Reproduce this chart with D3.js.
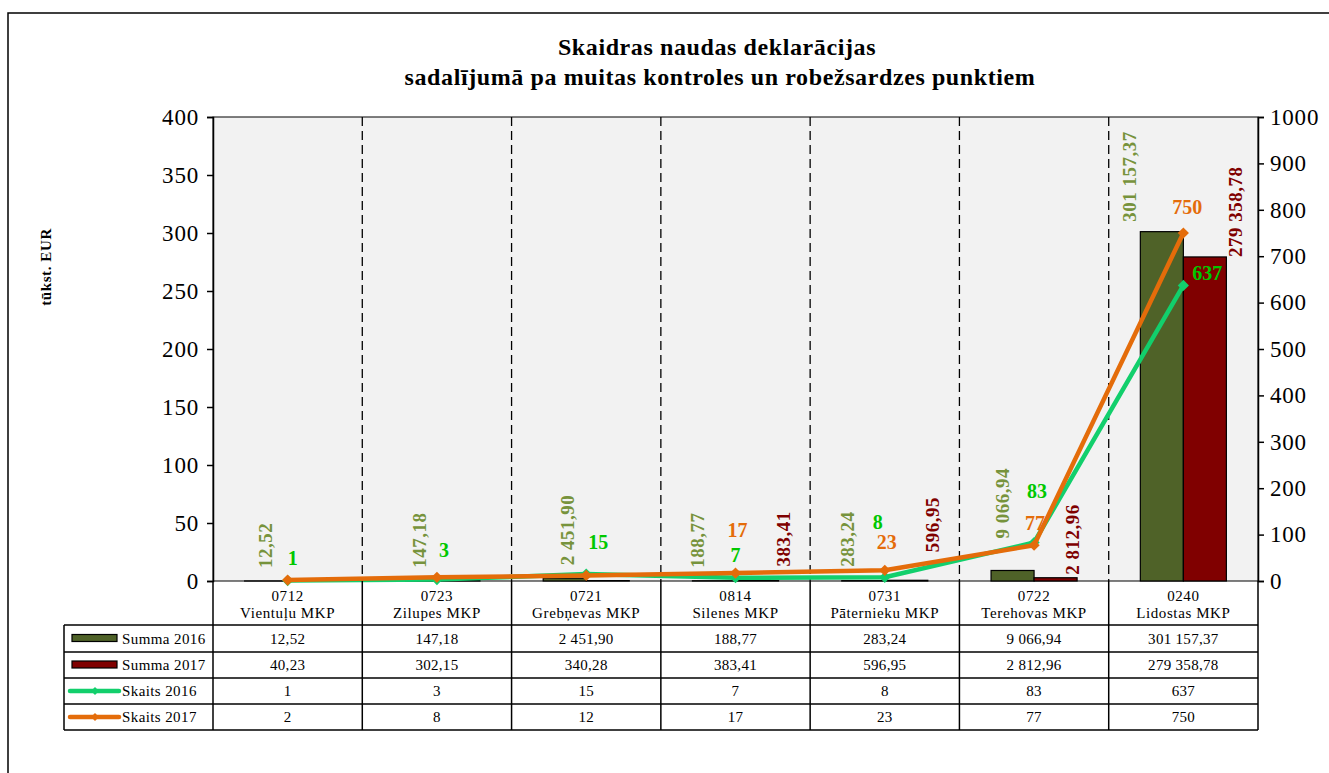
<!DOCTYPE html>
<html>
<head>
<meta charset="utf-8">
<script src="https://cdn.jsdelivr.net/npm/d3@7"></script>
<style>
  body { margin: 0; background: #fff; }
  svg text { font-family: 'Liberation Serif', serif; }
</style>
</head>
<body>
<svg id="chart" width="1329" height="773" font-family="Liberation Serif"></svg>
<script>
// BEGIN data
var codes = ["0712", "0723", "0721", "0814", "0731", "0722", "0240"];
var places = ["Vientuļu MKP", "Zilupes MKP", "Grebņevas MKP", "Silenes MKP", "Pāternieku MKP", "Terehovas MKP", "Lidostas MKP"];
var summa2016 = [12.52, 147.18, 2451.90, 188.77, 283.24, 9066.94, 301157.37];
var summa2017 = [40.23, 302.15, 340.28, 383.41, 596.95, 2812.96, 279358.78];
var skaits2016 = [1, 3, 15, 7, 8, 83, 637];
var skaits2017 = [2, 8, 12, 17, 23, 77, 750];
var leftTicks = [0, 50, 100, 150, 200, 250, 300, 350, 400];
var rightTicks = [0, 100, 200, 300, 400, 500, 600, 700, 800, 900, 1000];
// END data

// label nudges as placed in the original chart (null = label not shown)
var nudgeS16 = [[-1,-13],[4,-13],[3,-13],[-16,-13],[-16,-14],[-10,-32],[-32,-10]];
var nudgeS17 = [null,null,null,[26,-14],[26,-28],[17,-3],[31,0]];
var nudgeK16 = [[5,-23],[7,-30],[12,-32],[0,-23],[-7,-55],[3,-51],[24,-12]];
var nudgeK17 = [null,null,null,[2,-43],[2,-28],[1,-22],[4,-26]];

var colBar16 = "#4f6228", colBar17 = "#800000";
var colLab16 = "#77933c", colLab17 = "#7f0000";
var colLine16 = "#12cf6c", colLine17 = "#e46c0a";
var colNum16 = "#00c800";

var lv = d3.formatLocale({decimal: ",", thousands: " ", grouping: [3], currency: ["", " EUR"]});
var fmt = lv.format(",.2f");

var svg = d3.select("#chart");
var plotLeft = 213, plotRight = 1258, plotTop = 117, plotBottom = 581;

// outer frame
svg.append("rect").attr("x", 8).attr("y", 13).attr("width", 1340).attr("height", 800)
	.attr("fill", "none").attr("stroke", "#000").attr("stroke-width", 1.5);

// title
svg.append("text").attr("x", 717).attr("y", 55).attr("text-anchor", "middle")
	.style("font-size", "24px").style("font-weight", "bold").style("letter-spacing", "0.6px")
	.text("Skaidras naudas deklarācijas");
svg.append("text").attr("x", 720).attr("y", 85).attr("text-anchor", "middle")
	.style("font-size", "24px").style("font-weight", "bold").style("letter-spacing", "0.6px")
	.text("sadalījumā pa muitas kontroles un robežsardzes punktiem");

var x = d3.scaleBand().domain(codes).range([plotLeft, plotRight]).paddingInner(0).paddingOuter(0);
var xs = d3.scaleBand().domain(["2016", "2017"]).range([0, x.bandwidth()]).paddingInner(0).paddingOuter(0.735);
var yL = d3.scaleLinear().domain([0, 400]).range([plotBottom, plotTop]);
var yR = d3.scaleLinear().domain([0, 1000]).range([plotBottom, plotTop]);

// plot area
svg.append("rect").attr("x", plotLeft).attr("y", plotTop).attr("width", plotRight - plotLeft).attr("height", plotBottom - plotTop)
	.attr("fill", "#f2f2f2").attr("stroke", "#000").attr("stroke-width", 1);

// dashed category separators
svg.append("g").selectAll("line").data(codes.slice(1)).join("line")
	.attr("x1", function(d) { return x(d); }).attr("x2", function(d) { return x(d); })
	.attr("y1", plotTop).attr("y2", plotBottom)
	.attr("stroke", "#000").attr("stroke-width", 1.3).attr("stroke-dasharray", "9,5");

// bars (values in EUR, axis in thousand EUR)
var bars = svg.append("g");
bars.selectAll("rect.b16").data(summa2016).join("rect").attr("class", "b16")
	.attr("x", function(d, i) { return x(codes[i]) + xs("2016"); })
	.attr("y", function(d) { return yL(d / 1000); })
	.attr("width", xs.bandwidth())
	.attr("height", function(d) { return plotBottom - yL(d / 1000); })
	.attr("fill", colBar16).attr("stroke", "#000").attr("stroke-width", 1.2);
bars.selectAll("rect.b17").data(summa2017).join("rect").attr("class", "b17")
	.attr("x", function(d, i) { return x(codes[i]) + xs("2017"); })
	.attr("y", function(d) { return yL(d / 1000); })
	.attr("width", xs.bandwidth())
	.attr("height", function(d) { return plotBottom - yL(d / 1000); })
	.attr("fill", colBar17).attr("stroke", "#000").attr("stroke-width", 1.2);

// axes
var axL = d3.axisLeft(yL).tickValues(leftTicks).tickSize(6).tickPadding(8).tickFormat(d3.format("d"));
var gL = svg.append("g").attr("transform", "translate(" + plotLeft + ",0)").call(axL);
var axR = d3.axisRight(yR).tickValues(rightTicks).tickSize(6).tickPadding(6).tickFormat(d3.format("d"));
var gR = svg.append("g").attr("transform", "translate(" + plotRight + ",0)").call(axR);
[gL, gR].forEach(function(g) {
	g.attr("font-family", "Liberation Serif");
	g.select(".domain").attr("stroke", "#000").attr("stroke-width", 1.5);
	g.selectAll(".tick line").attr("stroke", "#000").attr("stroke-width", 1.5);
	g.selectAll(".tick text").style("font-size", "23px").style("letter-spacing", "0.8px").attr("fill", "#000");
});

svg.append("text").attr("transform", "translate(51,267) rotate(-90)")
	.attr("text-anchor", "middle").style("font-size", "15px").style("font-weight", "bold")
	.style("letter-spacing", "0.6px").text("tūkst. EUR");

// lines
function cx(i) { return x(codes[i]) + x.bandwidth() / 2; }
var lineGen = d3.line().x(function(d, i) { return cx(i); }).y(function(d) { return yR(d); });

function drawSeries(data, color) {
	svg.append("path").datum(data).attr("d", lineGen)
		.attr("fill", "none").attr("stroke", color).attr("stroke-width", 4.5).attr("stroke-linejoin", "round");
	svg.append("g").selectAll("path").data(data).join("path")
		.attr("d", d3.symbol(d3.symbolDiamond2, 80))
		.attr("transform", function(d, i) { return "translate(" + cx(i) + "," + yR(d) + ")"; })
		.attr("fill", color);
}
drawSeries(skaits2016, colLine16);
drawSeries(skaits2017, colLine17);

// data labels
function barLabels(data, key, nudge, color) {
	var g = svg.append("g");
	data.forEach(function(d, i) {
		if (nudge[i] == null) return;
		var bx = x(codes[i]) + xs(key) + xs.bandwidth() / 2 + nudge[i][0];
		var by = yL(d / 1000) + nudge[i][1];
		g.append("text")
			.attr("transform", "translate(" + bx + "," + by + ") rotate(-90)")
			.attr("dominant-baseline", "central")
			.style("font-size", "19px").style("font-weight", "bold").style("letter-spacing", "0.5px")
			.attr("fill", color)
			.text(fmt(d));
	});
}
barLabels(summa2016, "2016", nudgeS16, colLab16);
barLabels(summa2017, "2017", nudgeS17, colLab17);

function pointLabels(data, nudge, color) {
	var g = svg.append("g");
	data.forEach(function(d, i) {
		if (nudge[i] == null) return;
		g.append("text")
			.attr("x", cx(i) + nudge[i][0]).attr("y", yR(d) + nudge[i][1])
			.attr("text-anchor", "middle").attr("dominant-baseline", "central")
			.style("font-size", "20px").style("font-weight", "bold")
			.attr("fill", color)
			.text(d);
	});
}
pointLabels(skaits2016, nudgeK16, colNum16);
pointLabels(skaits2017, nudgeK17, colLine17);

// data table
var rowY = [581, 625, 652, 678, 704, 730];
var tbl = svg.append("g");
var tableLeft = 64;
tbl.selectAll("line.h").data(rowY.slice(1)).join("line").attr("class", "h")
	.attr("x1", tableLeft).attr("x2", plotRight).attr("y1", function(d) { return d; }).attr("y2", function(d) { return d; })
	.attr("stroke", "#000").attr("stroke-width", 1.5);
var vx = codes.map(function(c) { return x(c); }).concat([plotRight]);
tbl.selectAll("line.v").data(vx).join("line").attr("class", "v")
	.attr("x1", function(d) { return d; }).attr("x2", function(d) { return d; })
	.attr("y1", plotBottom).attr("y2", rowY[5])
	.attr("stroke", "#000").attr("stroke-width", 1.5);
tbl.append("line").attr("x1", tableLeft).attr("x2", tableLeft).attr("y1", rowY[1]).attr("y2", rowY[5])
	.attr("stroke", "#000").attr("stroke-width", 1.5);

codes.forEach(function(c, i) {
	tbl.append("text").attr("x", cx(i)).attr("y", 601).attr("text-anchor", "middle")
		.style("font-size", "15px").style("letter-spacing", "0.6px").text(c);
	tbl.append("text").attr("x", cx(i)).attr("y", 618).attr("text-anchor", "middle")
		.style("font-size", "15px").style("letter-spacing", "0.6px").text(places[i]);
});

var rows = [
	{name: "Summa 2016", values: summa2016.map(fmt), kind: "bar", color: colBar16},
	{name: "Summa 2017", values: summa2017.map(fmt), kind: "bar", color: colBar17},
	{name: "Skaits 2016", values: skaits2016.map(String), kind: "line", color: colLine16},
	{name: "Skaits 2017", values: skaits2017.map(String), kind: "line", color: colLine17}
];
rows.forEach(function(r, k) {
	var mid = (rowY[k + 1] + rowY[k + 2]) / 2;
	if (r.kind == "bar") {
		tbl.append("rect").attr("x", 72).attr("y", mid - 4).attr("width", 45).attr("height", 7)
			.attr("fill", r.color).attr("stroke", "#000").attr("stroke-width", 1.2);
	} else {
		tbl.append("line").attr("x1", 70).attr("x2", 119).attr("y1", mid).attr("y2", mid)
			.attr("stroke", r.color).attr("stroke-width", 4.5).attr("stroke-linecap", "round");
		tbl.append("path").attr("d", d3.symbol(d3.symbolDiamond2, 40))
			.attr("transform", "translate(95," + mid + ")").attr("fill", r.color);
	}
	tbl.append("text").attr("x", 122).attr("y", mid).attr("dominant-baseline", "central")
		.style("font-size", "15px").style("letter-spacing", "0.4px").text(r.name);
	r.values.forEach(function(v, i) {
		tbl.append("text").attr("x", cx(i)).attr("y", mid).attr("text-anchor", "middle")
			.attr("dominant-baseline", "central")
			.style("font-size", "15px").style("letter-spacing", "0.3px").text(v);
	});
});
</script>
</body>
</html>
